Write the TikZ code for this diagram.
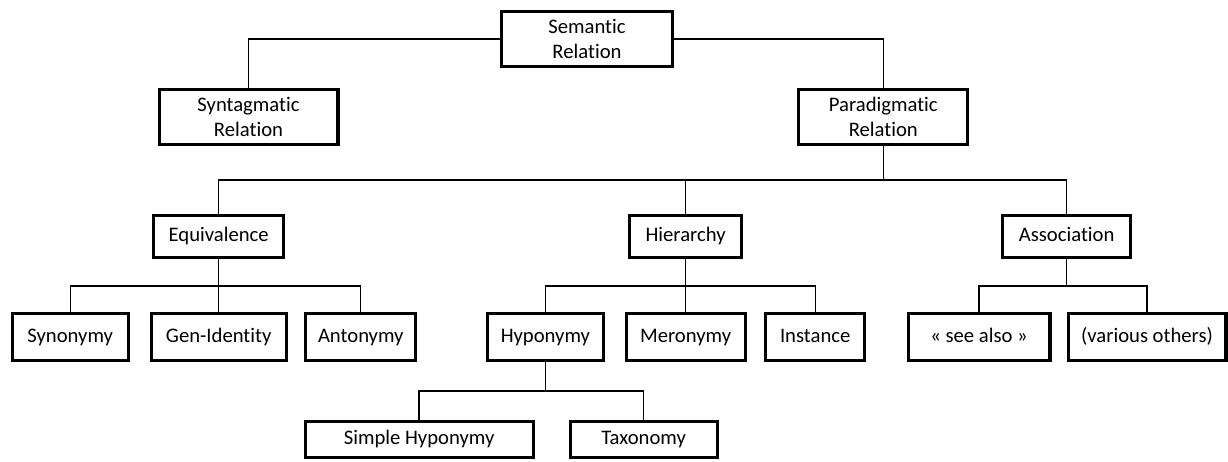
\documentclass[tikz,border=0pt]{standalone}
\usepackage{fontspec}
\setmainfont{Carlito}[Ligatures={NoCommon}]
\usetikzlibrary{positioning}

\begin{document}
\begin{tikzpicture}[x=0.75pt, y=-0.75pt, line width=1pt,
  box/.style={draw, line width=2.3pt, inner sep=0pt, align=center, font=\fontsize{15.5}{19}\selectfont},
  top/.style={box, minimum height=41.2pt},
  single/.style={box, text height=11pt, text depth=3.5pt},
  mid/.style={single, minimum height=31.45pt},
  low/.style={single, minimum height=35.2pt},
  leaf/.style={single, minimum height=26.95pt}]
   \useasboundingbox (0,0) rectangle (1228,461);

   \node[top, minimum width=128.2pt] (sem)  at (587,39)      {Semantic\\Relation};
   \node[top, minimum width=134.2pt] (syn)  at (248.5,117)   {Syntagmatic\\Relation};
   \node[top, minimum width=126.7pt] (par)  at (883.3,117)   {Paradigmatic\\Relation};
   \node[mid, minimum width=97.45pt] (equ)  at (218.7,236.5) {Equivalence};
   \node[mid, minimum width=83.95pt] (hie)  at (685.6,236.5) {Hierarchy};
   \node[mid, minimum width=95.95pt] (ass)  at (1066.6,236.5) {Association};
   \node[low, minimum width=86.95pt] (syno) at (70.2,337)    {Synonymy};
   \node[low, minimum width=101.2pt] (gen)  at (218.7,337)   {Gen-Identity};
   \node[low, minimum width=82.45pt] (ant)  at (360.8,337)   {Antonymy};
   \node[low, minimum width=86.95pt] (hypo) at (545.4,337)   {Hyponymy};
   \node[low, minimum width=89.2pt]  (mero) at (685.6,337)   {Meronymy};
   \node[low, minimum width=74.2pt]  (inst) at (815.2,337)   {Instance};
   \node[low, minimum width=106.45pt] (see) at (979,337)     {« see also »};
   \node[low, minimum width=118.45pt] (var) at (1147,337)    {(various others)};
   \node[leaf, minimum width=170.95pt] (simp) at (419.1,439.5) {Simple Hyponymy};
   \node[leaf, minimum width=110.2pt]  (tax)  at (643.6,439.5) {Taxonomy};

   \coordinate (busA) at (0,180);
   \coordinate (busB) at (0,286);
   \coordinate (busC) at (0,391);

   \draw (sem.west) -| (syn.north);
   \draw (sem.east) -| (par.north);
   \draw (par.south) -- (par.south |- busA) -| (equ.north);
   \draw (par.south |- busA) -| (hie.north);
   \draw (par.south |- busA) -| (ass.north);
   \draw (equ.south) -- (equ.south |- busB) -| (syno.north);
   \draw (equ.south) -- (gen.north);
   \draw (equ.south |- busB) -| (ant.north);
   \draw (hie.south) -- (hie.south |- busB) -| (hypo.north);
   \draw (hie.south) -- (mero.north);
   \draw (hie.south |- busB) -| (inst.north);
   \draw (ass.south) -- (ass.south |- busB) -| (see.north);
   \draw (ass.south |- busB) -| (var.north);
   \draw (hypo.south) -- (hypo.south |- busC) -| (simp.north);
   \draw (hypo.south |- busC) -| (tax.north);
\end{tikzpicture}
\end{document}
